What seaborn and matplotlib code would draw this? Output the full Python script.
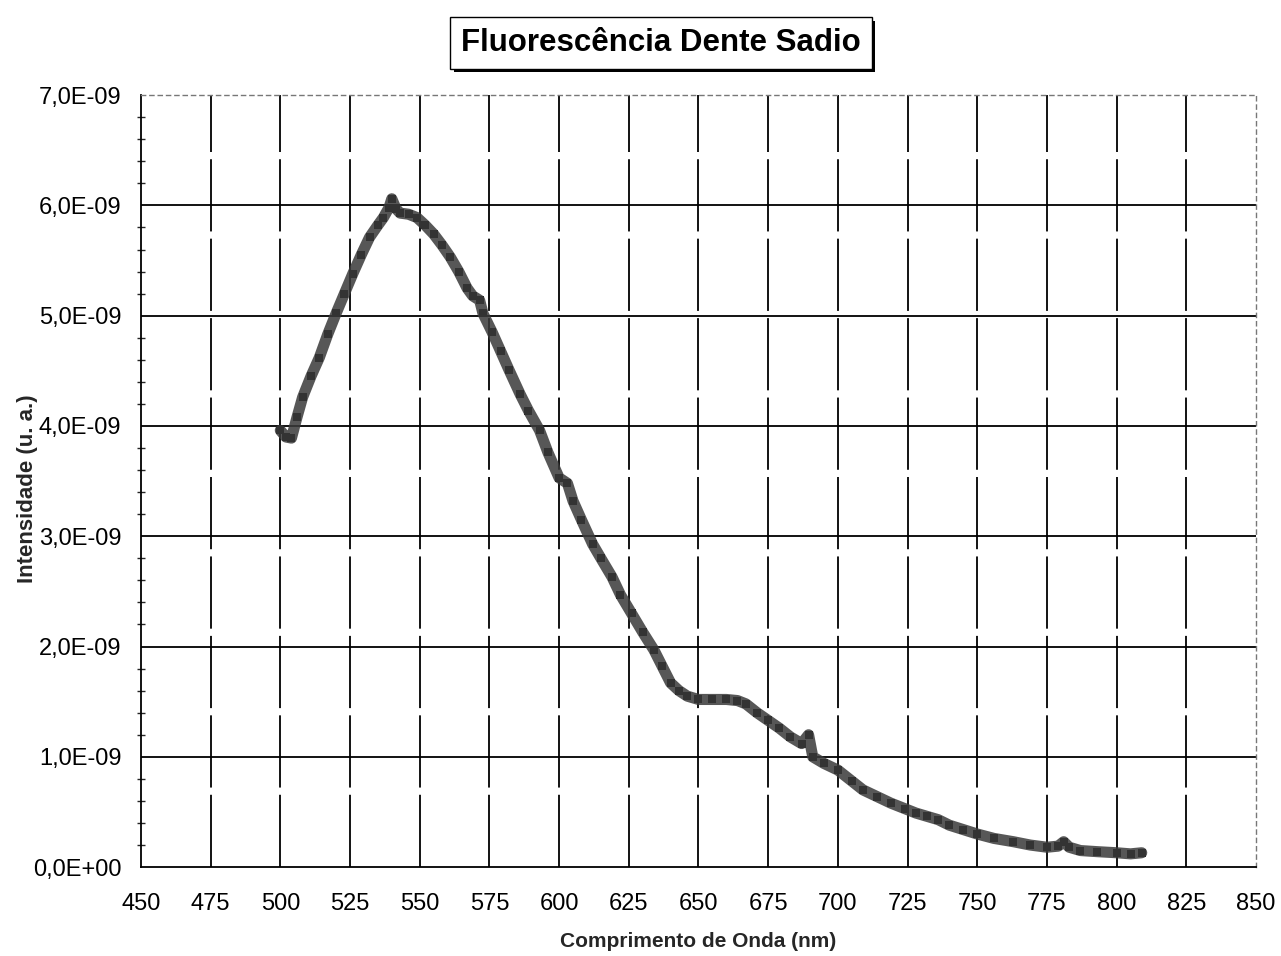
import matplotlib
matplotlib.use("Agg")
import matplotlib.pyplot as plt
from matplotlib.ticker import MultipleLocator, FuncFormatter
import matplotlib.patheffects as pe
import seaborn as sns
import pandas as pd

# comprimento de onda (nm) e intensidade (u. a.)
comprimento = [500, 502, 504, 506, 508, 511, 514, 517, 520, 523, 526, 529, 532,
               535, 537, 539, 540, 541.5, 543, 546, 549, 552, 555, 558, 561, 564,
               567, 569, 571.5, 572.7, 576, 579, 582, 586, 589, 593, 596, 600,
               603, 605, 608, 612, 615, 619, 622, 626, 630, 634, 637, 640, 643,
               646, 650, 655, 660, 664, 667, 671, 675, 679, 683, 687, 689.5, 691,
               695, 700, 705, 709, 714, 719, 724, 728, 732, 736, 740, 745, 750,
               756, 763, 769, 775, 779, 781, 783, 787, 793, 800, 805, 809]
intensidade = [3.96, 3.90, 3.89, 4.08, 4.26, 4.45, 4.62, 4.83, 5.02, 5.20, 5.38,
               5.55, 5.71, 5.82, 5.89, 5.98, 6.06, 5.97, 5.93, 5.92, 5.89, 5.82,
               5.74, 5.64, 5.53, 5.40, 5.25, 5.18, 5.14, 5.02, 4.85, 4.68, 4.51,
               4.29, 4.14, 3.96, 3.76, 3.53, 3.48, 3.32, 3.15, 2.93, 2.80, 2.63,
               2.47, 2.30, 2.13, 1.97, 1.82, 1.67, 1.60, 1.55, 1.52, 1.52, 1.52,
               1.51, 1.48, 1.40, 1.33, 1.26, 1.18, 1.12, 1.20, 1.00, 0.94, 0.88,
               0.78, 0.70, 0.64, 0.58, 0.53, 0.49, 0.46, 0.43, 0.38, 0.34, 0.30,
               0.26, 0.23, 0.20, 0.18, 0.19, 0.23, 0.18, 0.15, 0.14, 0.13, 0.12,
               0.13]

x_ticks = list(range(450, 851, 25))
y_ticks = [i * 1e-09 for i in range(8)]

df = pd.DataFrame({"Comprimento": comprimento,
                   "Intensidade": [v * 1e-09 for v in intensidade]})

sns.set_style("white")
plt.rcParams['font.family'] = ['Liberation Sans', 'DejaVu Sans']

fig = plt.figure(figsize=(12.81, 9.56), dpi=100)
ax = fig.add_axes([0.110, 0.093, 0.8705, 0.8075])

sns.lineplot(data=df, x="Comprimento", y="Intensidade", ax=ax,
             color="#3a3a3a", linewidth=8, alpha=0.85)
sns.scatterplot(data=df, x="Comprimento", y="Intensidade", ax=ax,
                color="#111111", s=30, marker="s", linewidth=0)

ax.set_xlim(450, 850)
ax.set_ylim(0, 7e-09)
ax.set_xticks(x_ticks)
ax.set_yticks(y_ticks)
ax.yaxis.set_minor_locator(MultipleLocator(2e-10))
ax.yaxis.set_major_formatter(FuncFormatter(lambda v, p: f"{v:.1E}".replace('.', ',')))

# grade: horizontais continuas, verticais tracejadas
ax.grid(False)
for yv in y_ticks[1:-1]:
    ax.axhline(yv, color="black", linewidth=1.3, zorder=0)
for xv in x_ticks[1:-1]:
    ax.axvline(xv, color="black", linewidth=1.3, linestyle=(0, (40, 4)), zorder=0)

for s in ["left", "bottom"]:
    ax.spines[s].set_color("black")
    ax.spines[s].set_linewidth(1.3)
for s in ["top", "right"]:
    ax.spines[s].set_color("#777777")
    ax.spines[s].set_linewidth(1.0)
    ax.spines[s].set_linestyle((0, (3, 3)))

ax.tick_params(axis="both", which="major", direction="inout", length=10, width=1.3,
               labelsize=17, color="black", labelcolor="black")
ax.tick_params(axis="y", which="minor", direction="inout", length=6, width=1.0, left=True)
ax.tick_params(axis="x", pad=14)
ax.tick_params(axis="y", pad=9)

ax.set_xlabel("Comprimento de Onda (nm)", fontsize=15, fontweight="bold", va="center")
ax.xaxis.set_label_coords(0.5, -0.0959)
ax.set_ylabel("Intensidade (u. a.)", fontsize=16, fontweight="bold", va="center")
ax.yaxis.set_label_coords(-0.102, 0.49)

# titulo em caixa com sombra
titulo = fig.text(0.516, 0.955, "Fluorescência Dente Sadio", ha="center", va="center",
                  fontsize=22.5, fontweight="bold", color="black",
                  bbox=dict(boxstyle="square,pad=0.35", fc="white", ec="black", lw=1.0))
titulo.get_bbox_patch().set_path_effects([
    pe.SimplePatchShadow(offset=(2.5, -2.5), shadow_rgbFace="black", alpha=1.0),
    pe.Normal()])

fig.savefig("out.png", dpi=100)
